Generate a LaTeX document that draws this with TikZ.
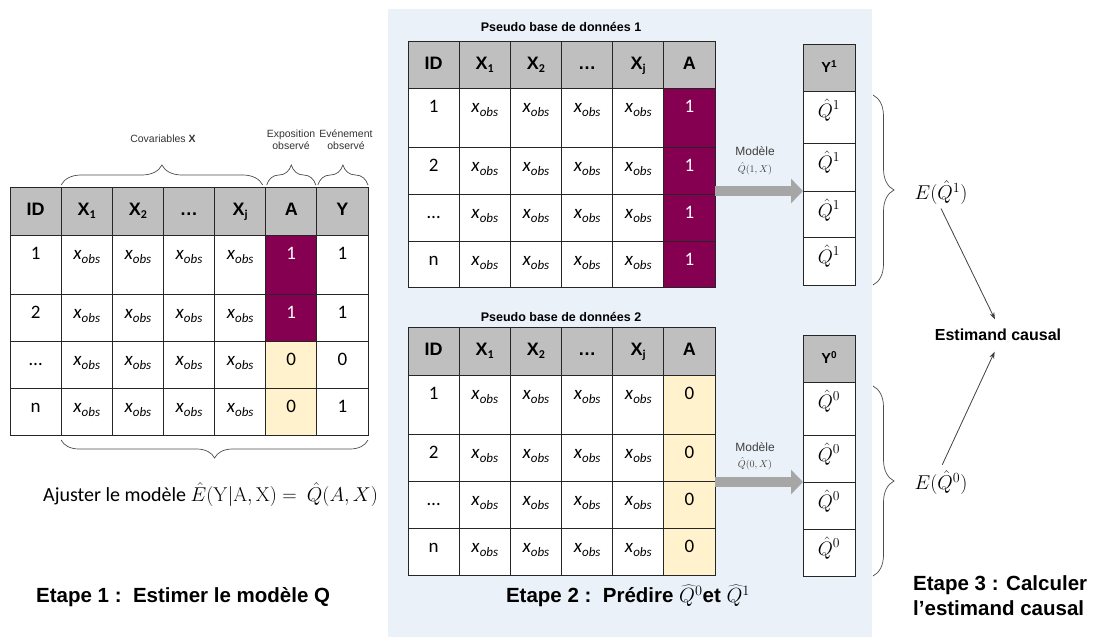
\RequirePackage{fix-cm}
\documentclass[tikz,border=0pt]{standalone}
\usepackage[no-math]{fontspec}
\setmainfont{Liberation Sans}
\newfontfamily\calib{Carlito}
\usetikzlibrary{arrows.meta,decorations.pathreplacing,calc}
\definecolor{hdc}{RGB}{191,191,191}
\definecolor{pur}{RGB}{134,0,82}
\definecolor{yel}{RGB}{255,242,204}
\definecolor{panel}{RGB}{234,241,248}
\definecolor{arrg}{RGB}{166,166,166}
\definecolor{lnc}{RGB}{64,64,64}
\newcommand\hdf{\fontsize{18}{20}\selectfont\bfseries}
\newcommand\yhf{\fontsize{14.5}{16}\selectfont\bfseries}
\newcommand\bdf{\calib\fontsize{19}{20}\selectfont}
\newcommand\qf{\fontsize{19.5}{20}\selectfont}
\newcommand\sbs[1]{\raisebox{-0.35ex}{\calib\bfseries\fontsize{12}{12}\selectfont #1}}
\newcommand\sps[1]{\raisebox{0.55ex}{\fontsize{10}{10}\selectfont #1}}
\newcommand\xo{\textit{x}\raisebox{-0.45ex}{\fontsize{13}{13}\selectfont\itshape obs}}
\newcommand\trow[7]{%
  \pgfmathsetmacro\hh{#4-#3}%
  \pgfmathsetmacro\ty{#3+#5}%
  \pgfmathsetmacro\cy{(#3+#4)/2}%
  \foreach \fc/\tx/\tc [count=\c from 0] in {#7}{%
    \pgfmathsetmacro\cx{#2+\cw*(\c+0.5)}%
    \node[cell,fill=\fc,minimum width=\cw pt,minimum height=\hh pt] (#1-\c) at (\cx,\cy) {};
    \node[anchor=base,font=#6,text=\tc,inner sep=0pt] (#1-\c-t) at (\cx,\ty) {\tx};
  }}
\begin{document}
\begin{tikzpicture}[x=1pt,y=-1pt,
  cell/.style={draw=black!85,line width=0.8pt,inner sep=0pt,outer sep=0pt},
  brc/.style={draw=black!70,line width=0.7pt,decorate,decoration={brace,amplitude=#1}},
  bigarr/.style={draw=arrg,line width=10pt,-{Triangle[length=12pt,width=24pt]}},
  conn/.style={draw=lnc,line width=0.8pt,-{Stealth[length=7pt,width=5pt]}},
  small/.style={font=\fontsize{10.5}{12}\selectfont,text=black!80,align=center,inner sep=0pt},
  etape/.style={font=\fontsize{20.5}{25}\selectfont\bfseries,inner sep=0pt}]
\useasboundingbox (0,0) rectangle (1094,637);
\fill[panel] (388,9) rectangle (872,637);

% ---------- left table ----------
\def\cw{51.14}
\trow{L0}{10}{187}{235}{28}{\hdf}{hdc/ID/black,hdc/X\sbs{1}/black,hdc/X\sbs{2}/black,hdc/…/black,hdc/X\sbs{j}/black,hdc/A/black,hdc/Y/black}
\trow{L1}{10}{235}{294}{24}{\bdf}{white/1/black,white/\xo/black,white/\xo/black,white/\xo/black,white/\xo/black,pur/1/white,white/1/black}
\trow{L2}{10}{294}{341}{24}{\bdf}{white/2/black,white/\xo/black,white/\xo/black,white/\xo/black,white/\xo/black,pur/1/white,white/1/black}
\trow{L3}{10}{341}{388}{24}{\bdf}{white/…/black,white/\xo/black,white/\xo/black,white/\xo/black,white/\xo/black,yel/0/black,white/0/black}
\trow{L4}{10}{388}{435}{24}{\bdf}{white/n/black,white/\xo/black,white/\xo/black,white/\xo/black,white/\xo/black,yel/0/black,white/1/black}

\draw[brc=20pt] ([yshift=2pt]L0-1.north west) -- ([yshift=2pt,xshift=-3pt]L0-4.north east);
\draw[brc=20pt] ([yshift=2pt,xshift=1pt]L0-5.north west) -- ([yshift=2pt,xshift=-1pt]L0-5.north east);
\draw[brc=20pt] ([yshift=2pt,xshift=1pt]L0-6.north west) -- ([yshift=2pt]L0-6.north east);
\node[small] (covx) at (163,139) {Covariables \textbf{X}};
\node[small] (expo) at (291,140) {Exposition\\observé};
\node[small] (even) at (346,140) {Evénement\\observé};
\draw[brc=18pt] ([yshift=-5pt]L4-6.south east) -- ([yshift=-5pt]L4-1.south west);
\node[anchor=west,inner sep=0pt,font=\calib\fontsize{20}{22}\selectfont] (ajust) at (43,495)
  {Ajuster le modèle $\hat{E}(\mathrm{Y|A,X}) =\ \hat{Q}(A,X)$};
\node[etape,anchor=west] (et1) at (36,597) {Etape 1 :\ \ Estimer le modèle Q};

% ---------- pseudo table 1 ----------
\node[inner sep=0pt,font=\fontsize{12.5}{14}\selectfont\bfseries] (pt1) at (561,27) {Pseudo base de données 1};
\def\cw{51.17}
\trow{P0}{408}{41}{88}{28}{\hdf}{hdc/ID/black,hdc/X\sbs{1}/black,hdc/X\sbs{2}/black,hdc/…/black,hdc/X\sbs{j}/black,hdc/A/black}
\trow{P1}{408}{88}{147}{24}{\bdf}{white/1/black,white/\xo/black,white/\xo/black,white/\xo/black,white/\xo/black,pur/1/white}
\trow{P2}{408}{147}{194}{24}{\bdf}{white/2/black,white/\xo/black,white/\xo/black,white/\xo/black,white/\xo/black,pur/1/white}
\trow{P3}{408}{194}{241}{24}{\bdf}{white/…/black,white/\xo/black,white/\xo/black,white/\xo/black,white/\xo/black,pur/1/white}
\trow{P4}{408}{241}{287}{24}{\bdf}{white/n/black,white/\xo/black,white/\xo/black,white/\xo/black,white/\xo/black,pur/1/white}

% ---------- pseudo table 2 ----------
\node[inner sep=0pt,font=\fontsize{12.5}{14}\selectfont\bfseries] (pt2) at (561,317) {Pseudo base de données 2};
\trow{Q0}{408}{327}{375}{28}{\hdf}{hdc/ID/black,hdc/X\sbs{1}/black,hdc/X\sbs{2}/black,hdc/…/black,hdc/X\sbs{j}/black,hdc/A/black}
\trow{Q1}{408}{375}{434}{24}{\bdf}{white/1/black,white/\xo/black,white/\xo/black,white/\xo/black,white/\xo/black,yel/0/black}
\trow{Q2}{408}{434}{481}{24}{\bdf}{white/2/black,white/\xo/black,white/\xo/black,white/\xo/black,white/\xo/black,yel/0/black}
\trow{Q3}{408}{481}{528}{24}{\bdf}{white/…/black,white/\xo/black,white/\xo/black,white/\xo/black,white/\xo/black,yel/0/black}
\trow{Q4}{408}{528}{575}{24}{\bdf}{white/n/black,white/\xo/black,white/\xo/black,white/\xo/black,white/\xo/black,yel/0/black}
\node[etape] (et2) at (628,596) {Etape 2 :\ \ Prédire $\widehat{Q}^0$et $\widehat{Q}^1$};

% ---------- Y columns ----------
\def\cw{52}
\trow{U0}{803}{44}{91}{28}{\yhf}{hdc/Y\sps{1}/black}
\trow{U1}{803}{91}{143}{26}{\qf}{white/$\hat{Q}^1$/black}
\trow{U2}{803}{143}{191}{26}{\qf}{white/$\hat{Q}^1$/black}
\trow{U3}{803}{191}{237}{26}{\qf}{white/$\hat{Q}^1$/black}
\trow{U4}{803}{237}{285}{26}{\qf}{white/$\hat{Q}^1$/black}
\trow{V0}{803}{335}{382}{28}{\yhf}{hdc/Y\sps{0}/black}
\trow{V1}{803}{382}{435}{26}{\qf}{white/$\hat{Q}^0$/black}
\trow{V2}{803}{435}{482}{26}{\qf}{white/$\hat{Q}^0$/black}
\trow{V3}{803}{482}{529}{26}{\qf}{white/$\hat{Q}^0$/black}
\trow{V4}{803}{529}{576}{26}{\qf}{white/$\hat{Q}^0$/black}

% ---------- model arrows ----------
\draw[bigarr] (U2-0.south west -| P2-5.east) -- (U2-0.south west);
\draw[bigarr] (V2-0.south west -| Q2-5.east) -- (V2-0.south west);
\node[inner sep=0pt,font=\fontsize{12}{14}\selectfont,text=black!75] (m1) at (755,151) {Modèle};
\node[inner sep=0pt,font=\fontsize{10}{12}\selectfont,text=black!75] (m1q) at (755,169) {$\hat{Q}(1,X)$};
\node[inner sep=0pt,font=\fontsize{12}{14}\selectfont,text=black!75] (m0) at (755,447) {Modèle};
\node[inner sep=0pt,font=\fontsize{10}{12}\selectfont,text=black!75] (m0q) at (755,464) {$\hat{Q}(0,X)$};

% ---------- step 3 ----------
\draw[brc=21pt] ([xshift=18pt,yshift=-4pt]U1-0.north east) -- ([xshift=18pt]U4-0.south east);
\draw[brc=21pt] ([xshift=18pt,yshift=-4pt]V1-0.north east) -- ([xshift=18pt]V4-0.south east);
\node[font=\fontsize{20}{22}\selectfont] (E1) at (941,193) {$E(\hat{Q}^1)$};
\node[font=\fontsize{20}{22}\selectfont] (E0) at (941,483) {$E(\hat{Q}^0)$};
\node[font=\fontsize{16}{18}\selectfont\bfseries] (EC) at (998,335) {Estimand causal};
\draw[conn,shorten >=7pt] (E1.south) -- (EC.north);
\draw[conn,shorten >=8pt,shorten <=3pt] (E0.north) -- (EC.south);
\node[etape,anchor=west,align=left] (et3) at (913,596) {Etape 3 : Calculer\\l’estimand causal};
\end{tikzpicture}
\end{document}
